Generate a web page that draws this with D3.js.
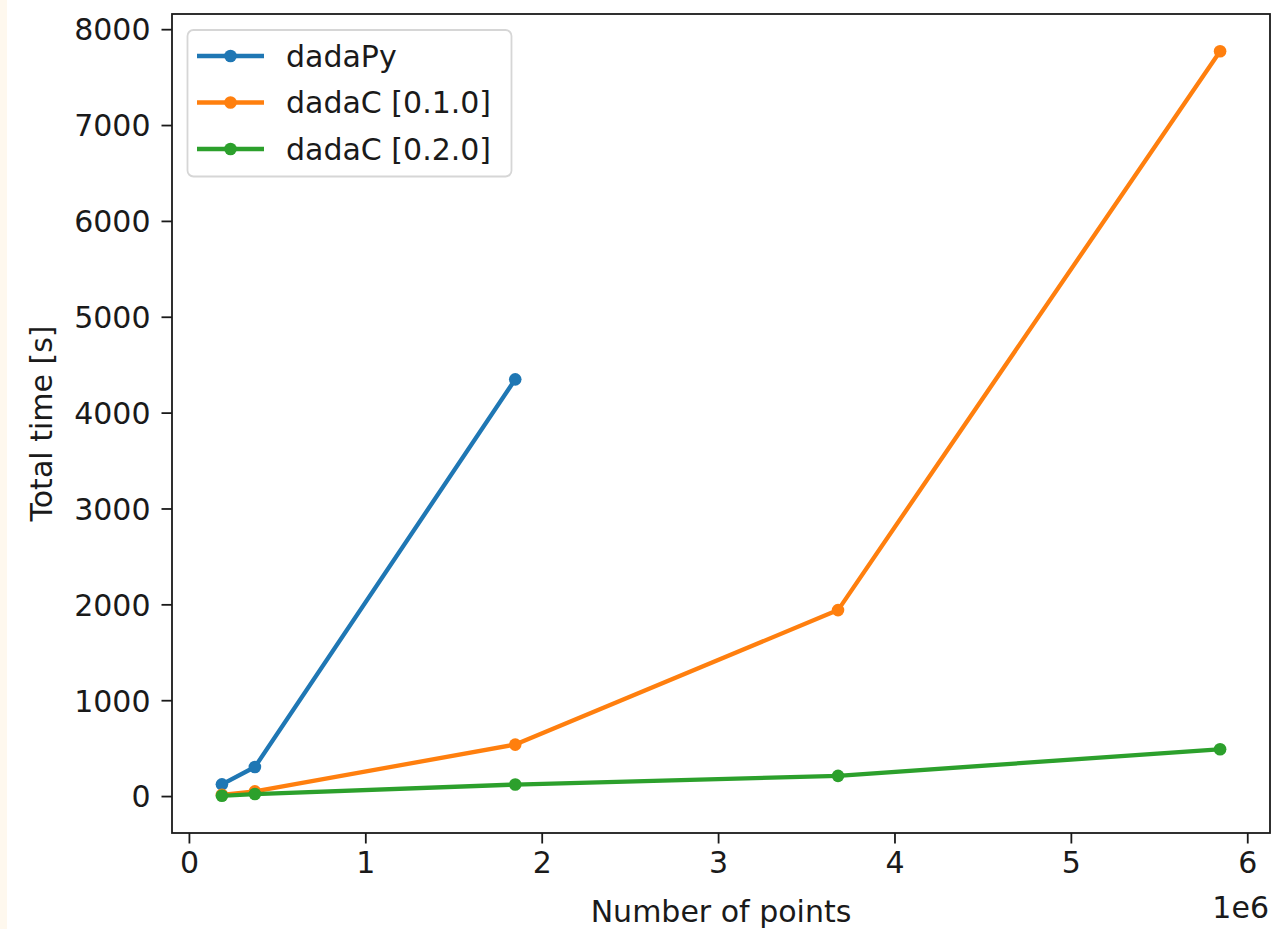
<html>
<head>
<script src="https://d3js.org/d3.v7.min.js"></script>
<style>
  body { margin: 0; background: #ffffff; }
  text { font-family: "DejaVu Sans", sans-serif; fill: #1a1a1a; }
</style>
</head>
<body>
<svg id="chart" width="1277" height="929"></svg>
<script>
(function(){

	// data
	var xPoints = [187000, 374000, 1850000, 3680000, 5846000];
	var dadaPy = [122, 303, 4347];
	var dadaC010 = [12, 49, 537, 1940, 7770];
	var dadaC020 = [3, 21, 120, 211, 489];
	var seriesNames = ["dadaPy", "dadaC [0.1.0]", "dadaC [0.2.0]"];
	var seriesColors = ["#1f77b4", "#ff7f0e", "#2ca02c"];
	var xTicks = [0, 1000000, 2000000, 3000000, 4000000, 5000000, 6000000];
	var yTicks = [0, 1000, 2000, 3000, 4000, 5000, 6000, 7000, 8000];

	var series = [dadaPy, dadaC010, dadaC020].map(function(vals, i){
		return {
			name: seriesNames[i],
			color: seriesColors[i],
			points: vals.map(function(v, j){ return {x: xPoints[j], y: v}; })
		};
	});

	var box = {left: 172, top: 14, right: 1270, bottom: 833};
	var fontSize = 30;

	var svg = d3.select("#chart");

	// cream strip on the left edge
	svg.append("rect").attr("x", 0).attr("y", 0).attr("width", 7).attr("height", 929)
		.style("fill", "#fef8ee");

	// matplotlib style 5% margins
	function padded(ext){
		var r = ext[1] - ext[0];
		return [ext[0] - 0.05*r, ext[1] + 0.05*r];
	}
	var allPts = d3.merge(series.map(function(s){ return s.points; }));
	var x = d3.scaleLinear()
		.domain(padded(d3.extent(allPts, function(d){ return d.x; })))
		.range([box.left, box.right]);
	var y = d3.scaleLinear()
		.domain(padded(d3.extent(allPts, function(d){ return d.y; })))
		.range([box.bottom, box.top]);

	// axes
	var xAxis = d3.axisBottom(x).tickValues(xTicks).tickSize(10.5).tickPadding(8)
		.tickFormat(function(d){ return d/1e6; });
	var yAxis = d3.axisLeft(y).tickValues(yTicks).tickSize(10.5).tickPadding(11)
		.tickFormat(d3.format("d"));

	var gx = svg.append("g").attr("transform", "translate(0," + box.bottom + ")").call(xAxis);
	var gy = svg.append("g").attr("transform", "translate(" + box.left + ",0)").call(yAxis);
	[gx, gy].forEach(function(g){
		g.select(".domain").remove();
		g.selectAll(".tick line").style("stroke", "#1a1a1a").style("stroke-width", 1.8);
		g.selectAll(".tick text").style("font-size", fontSize + "px").style("fill", "#1a1a1a")
			.attr("font-family", "DejaVu Sans");
	});
	gx.selectAll(".tick text").attr("dy", "0.71em");
	gy.selectAll(".tick text").attr("dy", "0.36em");

	// lines and markers
	var line = d3.line().x(function(d){ return x(d.x); }).y(function(d){ return y(d.y); });
	series.forEach(function(s){
		svg.append("path").datum(s.points).attr("d", line)
			.style("fill", "none").style("stroke", s.color)
			.style("stroke-width", 4.3).style("stroke-linejoin", "round").style("stroke-linecap", "square");
		svg.selectAll(".pt-" + s.name.replace(/\W/g, "")).data(s.points).enter().append("circle")
			.attr("cx", function(d){ return x(d.x); })
			.attr("cy", function(d){ return y(d.y); })
			.attr("r", 6.3)
			.style("fill", s.color);
	});

	// frame
	svg.append("rect")
		.attr("x", box.left).attr("y", box.top)
		.attr("width", box.right - box.left).attr("height", box.bottom - box.top)
		.style("fill", "none").style("stroke", "#1a1a1a").style("stroke-width", 1.8);

	// axis labels
	svg.append("text").attr("x", (box.left + box.right)/2).attr("y", 922)
		.attr("text-anchor", "middle").style("font-size", fontSize + "px")
		.text("Number of points");
	svg.append("text").attr("x", box.right - 1).attr("y", 918)
		.attr("text-anchor", "end").style("font-size", fontSize + "px")
		.text("1e6");
	svg.append("text")
		.attr("transform", "translate(51.5," + (box.top + box.bottom)/2 + ") rotate(-90)")
		.attr("text-anchor", "middle").style("font-size", fontSize + "px")
		.text("Total time [s]");

	// legend
	var legend = svg.append("g");
	legend.append("rect").attr("x", 187.5).attr("y", 30).attr("width", 324).attr("height", 146.5)
		.attr("rx", 6).attr("ry", 6)
		.style("fill", "#ffffff").style("fill-opacity", 0.8)
		.style("stroke", "#d6d6d6").style("stroke-width", 1.8);
	var entryY = [56, 102.5, 149];
	series.forEach(function(s, i){
		legend.append("line").attr("x1", 197).attr("x2", 264)
			.attr("y1", entryY[i]).attr("y2", entryY[i])
			.style("stroke", s.color).style("stroke-width", 4.3);
		legend.append("circle").attr("cx", 230.5).attr("cy", entryY[i]).attr("r", 6.3)
			.style("fill", s.color);
		legend.append("text").attr("x", 286).attr("y", entryY[i]).attr("dy", "0.36em")
			.style("font-size", fontSize + "px").text(s.name);
	});

})();
</script>
</body>
</html>
